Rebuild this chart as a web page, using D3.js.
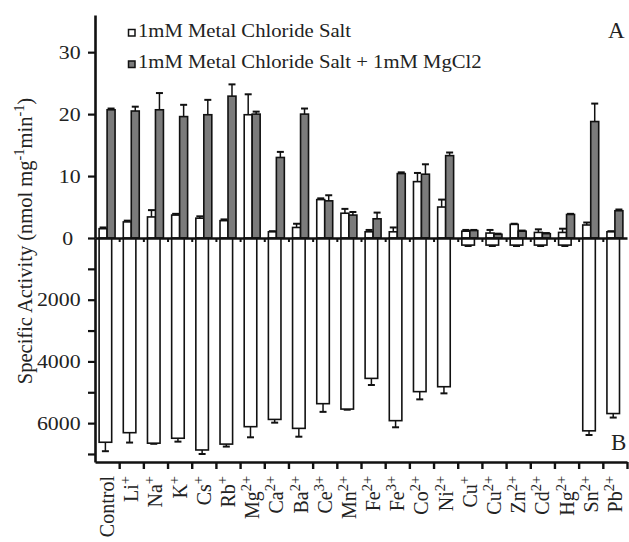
<!DOCTYPE html>
<html>
<head>
<meta charset="utf-8">
<script src="https://cdn.jsdelivr.net/npm/d3@7/dist/d3.min.js"></script>
<style>
  body { margin: 0; background: #fff; }
  svg { display: block; }
</style>
</head>
<body>
<div id="chart"></div>
<script>
// ── Data ────────────────────────────────────────────────────
const metals  = ['Control','Li','Na','K','Cs','Rb','Mg','Ca','Ba','Ce','Mn','Fe','Fe','Co','Ni','Cu','Cu','Zn','Cd','Hg','Sn','Pb'];
const charges = ['','+','+','+','+','+','2+','2+','2+','3+','2+','2+','3+','2+','2+','+','2+','2+','2+','2+','2+','2+'];

// panel A, 1mM metal chloride salt
const saltA    = [1.5, 2.6, 3.4, 3.7, 3.2, 2.8, 19.9, 1.0, 1.7, 6.2, 4.0, 1.0, 1.0, 9.1, 5.0, 1.1, 0.8, 2.2, 0.9, 0.9, 2.1, 1.0];
const saltAErr = [0.2, 0.2, 1.1, 0.2, 0.3, 0.2, 3.3, 0.1, 0.6, 0.2, 0.7, 0.3, 0.7, 1.4, 1.2, 0.2, 0.5, 0.1, 0.5, 0.6, 0.4, 0.1];
// panel A, salt + 1mM MgCl2
const mgA      = [20.7, 20.5, 20.7, 19.6, 19.9, 22.9, 20.0, 13.0, 20.0, 6.0, 3.7, 3.1, 10.4, 10.3, 13.3, 1.2, 0.6, 1.1, 0.7, 3.8, 18.8, 4.4];
const mgAErr   = [0.2, 0.7, 2.7, 1.9, 2.4, 1.9, 0.4, 0.9, 0.9, 0.9, 0.5, 1.0, 0.2, 1.6, 0.5, 0.1, 0.1, 0.1, 0.1, 0.1, 2.9, 0.2];
// panel B, salt only
const saltB    = [6620, 6310, 6650, 6490, 6870, 6680, 6115, 5880, 6170, 5370, 5545, 4550, 5920, 4980, 4820, 230, 230, 230, 230, 230, 6250, 5690];
const saltBErr = [290, 320, 20, 110, 130, 80, 345, 105, 270, 265, 20, 215, 215, 250, 215, 30, 30, 30, 30, 30, 135, 130];

const ticksA  = [0, 10, 20, 30];
const ticksB  = [1000, 2000, 3000, 4000, 5000, 6000, 7000];
const labelsB = [2000, 4000, 6000];

// ── Chart ───────────────────────────────────────────────────
const W = 629, H = 542;
const plotL = 95, plotR = 627, plotT = 15, zeroY = 238, plotB = 462;
const serif = "'Liberation Serif', 'Times New Roman', serif";
const ink = '#111';
const grey = '#7b7b7b';
const sx = 1.15; // horizontal stretch seen on upright text

const n = metals.length;
const svg = d3.select('#chart').append('svg').attr('width', W).attr('height', H);

const x = d3.scaleBand().domain(d3.range(n)).range([plotL, plotR]);
const edge = d3.scaleLinear().domain([0, n]).range([plotL, plotR]);
const bw = x.bandwidth();
const sub = d3.scaleBand().domain(['salt', 'mg']).range([bw * 0.17, bw * 0.83]);

const yA = d3.scaleLinear().domain([0, 36]).range([zeroY, plotT]);
const yB = d3.scaleLinear().domain([0, 7260]).range([zeroY, plotB]);

const capW = 7;
function errBar(g, cx, y0, y1) {
  g.append('line').attr('x1', cx).attr('x2', cx).attr('y1', y0).attr('y2', y1)
    .attr('stroke', ink).attr('stroke-width', 1.5);
  g.append('line').attr('x1', cx - capW / 2).attr('x2', cx + capW / 2).attr('y1', y1).attr('y2', y1)
    .attr('stroke', ink).attr('stroke-width', 2);
}

// Panel B bars (downward)
const gB = svg.append('g');
d3.range(n).forEach(i => {
  const x0 = x(i) + bw * 0.17, w = bw * 0.52;
  errBar(gB, x0 + w / 2, yB(saltB[i]), yB(saltB[i] + saltBErr[i]));
  gB.append('rect')
    .attr('x', x0).attr('y', zeroY).attr('width', w).attr('height', yB(saltB[i]) - zeroY)
    .attr('fill', '#fff').attr('stroke', ink).attr('stroke-width', 1.6);
});

// Panel A bars (upward)
const gA = svg.append('g');
const seriesA = [
  { key: 'salt', vals: saltA, errs: saltAErr, fill: '#fff' },
  { key: 'mg',   vals: mgA,   errs: mgAErr,   fill: grey },
];
seriesA.forEach(s => {
  d3.range(n).forEach(i => {
    const x0 = x(i) + sub(s.key), w = sub.bandwidth();
    errBar(gA, x0 + w / 2, yA(s.vals[i]), yA(s.vals[i] + s.errs[i]));
    gA.append('rect')
      .attr('x', x0).attr('y', yA(s.vals[i])).attr('width', w).attr('height', zeroY - yA(s.vals[i]))
      .attr('fill', s.fill).attr('stroke', ink).attr('stroke-width', 1.6);
  });
});

// Left axes
function styleAxis(g) {
  g.select('.domain').attr('stroke', ink).attr('stroke-width', 2.6);
  g.selectAll('.tick line').attr('stroke', ink).attr('stroke-width', 2.2);
  g.selectAll('.tick text')
    .attr('fill', '#222').attr('font-family', serif).attr('font-size', 19)
    .attr('text-anchor', 'end')
    .attr('transform', `scale(${sx},1)`);
}
const axA = svg.append('g').attr('transform', `translate(${plotL},0)`)
  .call(d3.axisLeft(yA).tickValues(ticksA).tickSize(7).tickSizeOuter(0).tickFormat(d3.format('d')));
styleAxis(axA);
axA.selectAll('.tick text').attr('x', d => d === 0 ? -19 : -12.5);

const axB = svg.append('g').attr('transform', `translate(${plotL},0)`)
  .call(d3.axisLeft(yB).tickValues(ticksB).tickSize(7).tickSizeOuter(0)
    .tickFormat(d => labelsB.includes(d) ? d : ''));
styleAxis(axB);
axB.selectAll('.tick text').attr('x', -12.5);

// Bottom axis (category boundaries)
const axX = svg.append('g').attr('transform', `translate(0,${plotB})`)
  .call(d3.axisBottom(edge).tickValues(d3.range(1, n + 1)).tickSize(7).tickSizeOuter(0).tickFormat(''));
axX.select('.domain').attr('stroke', ink).attr('stroke-width', 2.6);
axX.selectAll('.tick line').attr('stroke', ink).attr('stroke-width', 2.4);

// Zero line with short ticks
const axZ = svg.append('g').attr('transform', `translate(0,${zeroY})`)
  .call(d3.axisBottom(edge).tickValues(d3.range(1, n)).tickSize(4).tickSizeOuter(0).tickFormat(''));
axZ.select('.domain').attr('stroke', ink).attr('stroke-width', 2.6);
axZ.selectAll('.tick line').attr('stroke', ink).attr('stroke-width', 2);

// Category labels, rotated
d3.range(n).forEach(i => {
  const t = svg.append('text')
    .attr('transform', `translate(${x(i) + bw / 2},476) rotate(-90)`)
    .attr('dy', '0.35em')
    .attr('text-anchor', 'end')
    .attr('font-family', serif).attr('font-size', 20).attr('fill', '#222');
  t.append('tspan').text(metals[i]);
  if (charges[i]) t.append('tspan').attr('baseline-shift', 'super').attr('font-size', '0.72em').text(charges[i]);
});

// Y title
const yt = svg.append('text')
  .attr('transform', `translate(32,241) rotate(-90)`)
  .attr('text-anchor', 'middle')
  .attr('font-family', serif).attr('font-size', 20.5).attr('fill', '#222');
yt.append('tspan').text('Specific Activity (nmol mg');
yt.append('tspan').attr('baseline-shift', 'super').attr('font-size', '0.7em').text('-1');
yt.append('tspan').text('min');
yt.append('tspan').attr('baseline-shift', 'super').attr('font-size', '0.7em').text('-1');
yt.append('tspan').text(')');

// Legend
const legendItems = [
  { label: '1mM Metal Chloride Salt', fill: '#fff', y: 36.5 },
  { label: '1mM Metal Chloride Salt + 1mM MgCl2', fill: grey, y: 68 },
];
legendItems.forEach(d => {
  svg.append('rect').attr('x', 128.5).attr('y', d.y - 7).attr('width', 6.5).attr('height', 6.5)
    .attr('fill', d.fill).attr('stroke', ink).attr('stroke-width', 1.5);
  svg.append('text')
    .attr('transform', `translate(138,${d.y}) scale(${sx},1)`)
    .attr('font-family', serif).attr('font-size', 18).attr('fill', '#222')
    .text(d.label);
});

// Panel letters
svg.append('text').attr('x', 608).attr('y', 38).attr('font-family', serif).attr('font-size', 23).attr('fill', '#222').text('A');
svg.append('text').attr('x', 611).attr('y', 450).attr('font-family', serif).attr('font-size', 23).attr('fill', '#222').text('B');
</script>
</body>
</html>
